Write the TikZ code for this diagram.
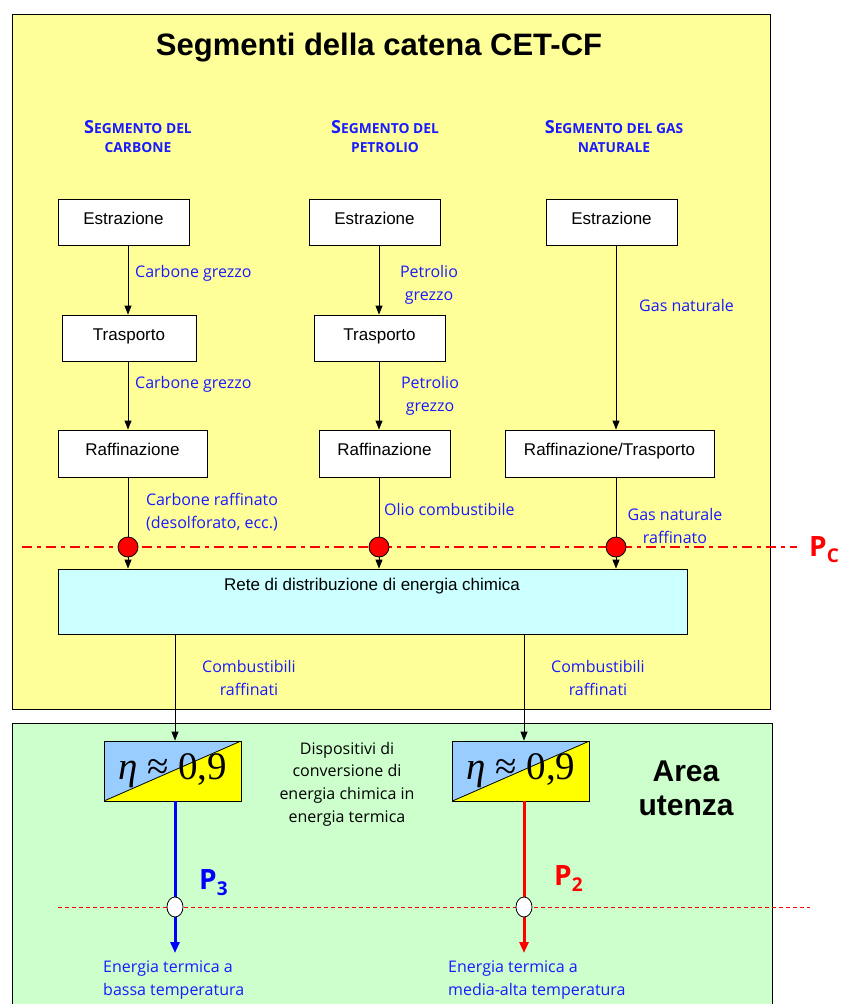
\documentclass[tikz,border=0pt]{standalone}
\usepackage{fontspec}
\setmainfont{Liberation Sans}
\newfontfamily\hand{Open Sans}
\newfontfamily\tms{Liberation Serif}
\usetikzlibrary{arrows.meta,shapes.geometric}

\definecolor{pale}{HTML}{FFFF99}
\definecolor{mint}{HTML}{CCFFCC}
\definecolor{aqua}{HTML}{CCFFFF}
\definecolor{sky}{HTML}{99CCFF}
\definecolor{lemon}{HTML}{FFFF00}
\definecolor{ink}{HTML}{1A1AFF}

\newcommand\headsc[2]{{\fontsize{18}{18}\selectfont #1}{\fontsize{13.8}{13.8}\selectfont #2}}

\tikzset{
  stagebox/.style={draw=black, fill=white, line width=0.8pt, minimum height=46pt,
    inner sep=0pt, text height=12pt, text depth=8pt, font=\fontsize{17}{20}\selectfont},
  lbl/.style={text=ink, font=\hand\fontsize{16}{23.5}\selectfont, align=center, inner sep=0pt},
  head/.style={text=ink, font=\hand\bfseries, align=center, inner sep=0pt},
  arr/.style={-{Triangle[length=9pt,width=7pt]}, line width=0.8pt},
  tap/.style={circle, draw=black, fill=red, line width=0.8pt, minimum size=20pt, inner sep=0pt},
  probe/.style={ellipse, draw=black, fill=white, line width=0.8pt, minimum width=16pt,
    minimum height=20pt, inner sep=0pt},
  etabox/.style={draw=black, line width=0.8pt, minimum width=137pt, minimum height=60pt,
    inner sep=0pt, font=\tms\fontsize{39}{39}\selectfont,
    path picture={
      \fill[sky] (path picture bounding box.north west) -- (path picture bounding box.north east)
        -- (path picture bounding box.south west) -- cycle;
      \fill[lemon] (path picture bounding box.south east) -- (path picture bounding box.north east)
        -- (path picture bounding box.south west) -- cycle;
      \draw[line width=0.8pt] (path picture bounding box.south west) -- (path picture bounding box.north east);
    }},
  heat/.style={line width=3pt, -{Triangle[length=11pt,width=9pt]}},
}

\begin{document}
\begin{tikzpicture}[x=1pt,y=-1pt]
\useasboundingbox (0,0) rectangle (842,1004);
\clip (0,0) rectangle (842,1004);

% panels
\draw[fill=pale, line width=0.8pt] (12,14) rectangle (770,709);
\draw[fill=mint, line width=0.8pt] (12,723) rectangle (772,1012);

\node[font=\bfseries\fontsize{31}{31}\selectfont] (title) at (379,48) {Segmenti della catena CET-CF};

% segment headings
\node[head] (hc) at (138,137) {\headsc{S}{EGMENTO DEL}\\[7pt]\headsc{}{CARBONE}};
\node[head] (hp) at (385,137) {\headsc{S}{EGMENTO DEL}\\[7pt]\headsc{}{PETROLIO}};
\node[head] (hg) at (614,137) {\headsc{S}{EGMENTO DEL GAS}\\[7pt]\headsc{}{NATURALE}};

% column axes
\coordinate (c1) at (128,0);
\coordinate (c2) at (379,0);
\coordinate (c3) at (616,0);

% stages
\node[stagebox, minimum width=131pt] (e1) at (123.5,222) {Estrazione};
\node[stagebox, minimum width=131pt] (e2) at (374.5,222) {Estrazione};
\node[stagebox, minimum width=131pt] (e3) at (611.5,222) {Estrazione};
\node[stagebox, minimum width=134pt] (t1) at (129,338) {Trasporto};
\node[stagebox, minimum width=131pt] (t2) at (379.5,338) {Trasporto};
\node[stagebox, minimum width=149pt, minimum height=47pt] (r1) at (132.5,453.5) {Raffinazione};
\node[stagebox, minimum width=131pt, minimum height=47pt] (r2) at (384.5,453.5) {Raffinazione};
\node[stagebox, minimum width=209pt, minimum height=47pt] (r3) at (609.5,453.5) {Raffinazione/Trasporto};

\draw[arr] (e1.south -| c1) -- (t1.north -| c1);
\draw[arr] (t1.south -| c1) -- (r1.north -| c1);
\draw[arr] (e2.south -| c2) -- (t2.north -| c2);
\draw[arr] (t2.south -| c2) -- (r2.north -| c2);
\draw[arr] (e3.south -| c3) -- (r3.north -| c3);

\node[lbl, anchor=west] (l1) at (135,273) {Carbone grezzo};
\node[lbl, anchor=west] (l2) at (135,384) {Carbone grezzo};
\node[lbl] (l3) at (429,285) {Petrolio\\grezzo};
\node[lbl] (l4) at (430,396) {Petrolio\\grezzo};
\node[lbl, anchor=west] (l5) at (639,305) {Gas naturale};

% chemical energy interface
\coordinate (pcl) at (22,547);
\coordinate (pcr) at (797,547);
\draw[red, line width=2pt, dash pattern=on 10pt off 5pt on 4pt off 5pt] (pcl) -- (pcr);
\node[text=red, font=\hand\bfseries\fontsize{28}{28}\selectfont, anchor=west, inner sep=0pt] (pc) at (809,550)
  {P\raisebox{-6pt}{\fontsize{19}{19}\selectfont C}};

\node[draw=black, fill=aqua, line width=0.8pt, minimum width=629pt, minimum height=65pt] (net) at (372.5,601.5) {};
\node[font=\fontsize{17}{20}\selectfont] (nettxt) at (372,586) {Rete di distribuzione di energia chimica};

\node[tap] (k1) at (128,547) {};
\node[tap] (k2) at (379,547) {};
\node[tap] (k3) at (616,547) {};
\draw[line width=0.8pt] (r1.south -| c1) -- (k1);
\draw[line width=0.8pt] (r2.south -| c2) -- (k2);
\draw[line width=0.8pt] (r3.south -| c3) -- (k3);
\draw[arr] (k1) -- (net.north -| c1);
\draw[arr] (k2) -- (net.north -| c2);
\draw[arr] (k3) -- (net.north -| c3);

\node[lbl] (l6) at (212,512) {Carbone raffinato\\(desolforato, ecc.)};
\node[lbl, anchor=west] (l7) at (384,509) {Olio combustibile};
\node[lbl] (l8) at (675,526) {Gas naturale\\raffinato};

% conversion devices
\coordinate (d1) at (175,0);
\coordinate (d2) at (524,0);
\node[etabox] (h1) at (172.5,771) {\itshape η\upshape\ ≈ 0,9};
\node[etabox] (h2) at (521,771) {\itshape η\upshape\ ≈ 0,9};
\draw[arr] (net.south -| d1) -- (h1.north -| d1);
\draw[arr] (net.south -| d2) -- (h2.north -| d2);
\node[lbl] (l9) at (249,678) {Combustibili\\raffinati};
\node[lbl] (l10) at (598,678) {Combustibili\\raffinati};

\node[font=\hand\fontsize{16}{22.6}\selectfont, align=center, inner sep=0pt] (dev) at (347,784)
  {Dispositivi di\\conversione di\\energia chimica in\\energia termica};
\node[font=\bfseries\fontsize{30}{34}\selectfont, align=center, inner sep=0pt] (area) at (686,788) {Area\\utenza};

% thermal outputs
\draw[red, line width=1pt, dash pattern=on 4pt off 3pt] (58,907) -- (810,907);
\coordinate (o1) at (175,953);
\coordinate (o2) at (524,953);
\draw[heat, blue] (h1.south -| d1) -- (o1);
\draw[heat, red] (h2.south -| d2) -- (o2);
\node[probe] (w1) at (175,907) {};
\node[probe] (w2) at (524,907) {};
\node[text=blue, font=\hand\bfseries\fontsize{28}{28}\selectfont, anchor=west, inner sep=0pt] (p3) at (199,883)
  {P\raisebox{-6pt}{\fontsize{19}{19}\selectfont 3}};
\node[text=red, font=\hand\bfseries\fontsize{28}{28}\selectfont, anchor=west, inner sep=0pt] (p2) at (554,878)
  {P\raisebox{-6pt}{\fontsize{19}{19}\selectfont 2}};

\node[lbl, align=left, anchor=west] (l11) at (103,980) {Energia termica a\\bassa temperatura};
\node[lbl, align=left, anchor=west] (l12) at (448,980) {Energia termica a\\media-alta temperatura};
\end{tikzpicture}
\end{document}
